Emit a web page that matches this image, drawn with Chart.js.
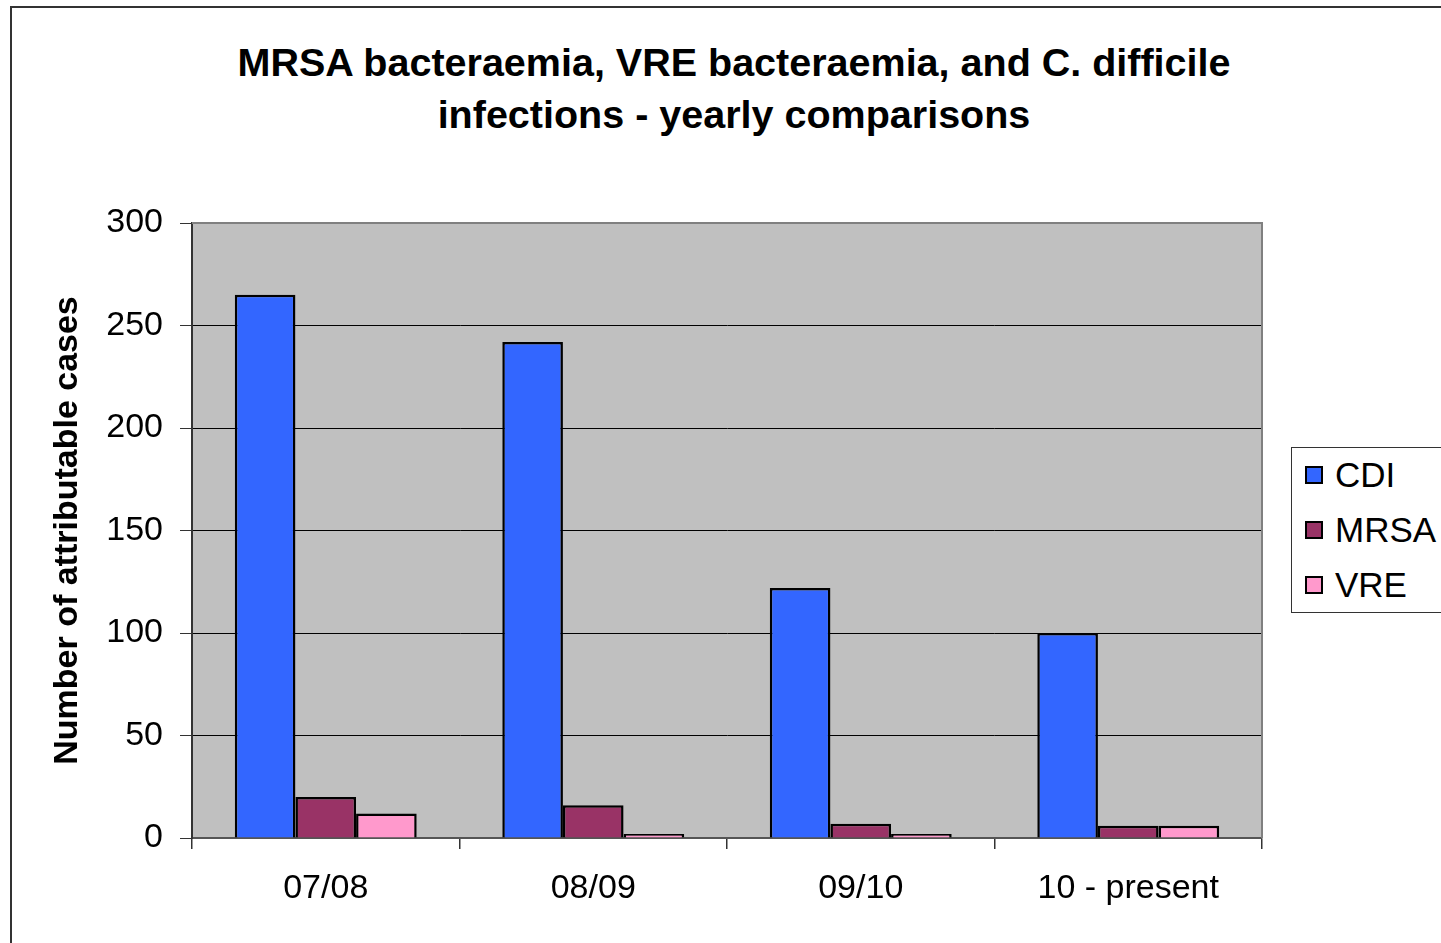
<!DOCTYPE html>
<html>
<head>
<meta charset="utf-8">
<script src="https://cdn.jsdelivr.net/npm/chart.js@4.4.0/dist/chart.umd.min.js"></script>
<style>
    html, body { margin: 0; padding: 0; background: #fff; overflow: hidden; }
    #wrap { position: relative; width: 1441px; height: 943px; font-family: 'Liberation Sans', Arial, sans-serif; }
    #frame { position: absolute; left: 10px; top: 6px; width: 1500px; height: 1000px; border-left: 2px solid #333; border-top: 2px solid #333; }
    #titulo { position: absolute; left: 0; width: 1468px; top: 36px; text-align: center; font-weight: bold; font-size: 39.5px; line-height: 52px; color: #000; }
    #legenda { position: absolute; left: 1291px; top: 447px; width: 170px; height: 164px; border: 1px solid #333; background: #fff; }
    .item { position: absolute; left: 13px; font-size: 35px; line-height: 40px; color: #000; }
    .item span.box { display: inline-block; width: 14px; height: 14px; border: 2px solid #000; margin-right: 12px; vertical-align: 3px; }
    canvas { position: absolute; left: 0; top: 0; }
</style>
</head>
<body>
<div id="wrap">
    <div id="frame"></div>
    <div id="titulo">MRSA bacteraemia, VRE bacteraemia, and C. difficile<br>infections - yearly comparisons</div>
    <canvas id="grafico" width="1441" height="943"></canvas>
    <div id="legenda"></div>
</div>
<script>
const categorias = ['07/08', '08/09', '09/10', '10 - present'];
const cdi = [265, 242, 122, 100];
const mrsa = [20, 16, 7, 6];
const vre = [12, 2, 2, 6];
const series = ['CDI', 'MRSA', 'VRE'];
const cores = ['#3366FF', '#993366', '#FF99CC'];
const ticksY = [0, 50, 100, 150, 200, 250, 300];

// legenda em html
const leg = document.getElementById('legenda');
series.forEach((nome, i) => {
    const d = document.createElement('div');
    d.className = 'item';
    d.style.top = (7 + i * 55) + 'px';
    d.innerHTML = '<span class="box" style="background:' + cores[i] + '"></span>' + nome;
    leg.appendChild(d);
});

const fundoPlot = {
    id: 'fundoPlot',
    beforeDraw(chart) {
        const { ctx, chartArea: a } = chart;
        ctx.save();
        ctx.fillStyle = '#C0C0C0';
        ctx.fillRect(a.left, a.top, a.right - a.left, a.bottom - a.top);
        ctx.restore();
    },
    afterDatasetsDraw(chart) {
        const { ctx, chartArea: a } = chart;
        ctx.save();
        ctx.strokeStyle = '#808080';
        ctx.lineWidth = 2;
        ctx.beginPath();
        ctx.moveTo(a.left, a.top);
        ctx.lineTo(a.right, a.top);
        ctx.lineTo(a.right, a.bottom);
        ctx.stroke();
        ctx.restore();
    }
};

const valores = [cdi, mrsa, vre];

new Chart(document.getElementById('grafico').getContext('2d'), {
    type: 'bar',
    data: {
        labels: categorias,
        datasets: series.map((nome, i) => ({
            label: nome,
            data: valores[i],
            backgroundColor: cores[i],
            borderColor: '#000',
            borderWidth: 2.5,
            borderSkipped: 'bottom',
            categoryPercentage: 0.68,
            barPercentage: 1.0
        }))
    },
    options: {
        responsive: false,
        animation: false,
        layout: { padding: { left: 10, top: 223, right: 179, bottom: 0 } },
        plugins: {
            legend: { display: false },
            title: { display: false },
            tooltip: { enabled: false }
        },
        scales: {
            x: {
                afterFit(scale) { scale.height = 105; },
                grid: { display: true, drawOnChartArea: false, offset: true, tickLength: 11, color: '#333', lineWidth: 1.5 },
                border: { color: '#555', width: 2 },
                ticks: { color: '#000', font: { family: 'Liberation Sans', size: 34 }, padding: 19, maxRotation: 0 }
            },
            y: {
                min: 0,
                max: 300,
                afterFit(scale) { scale.width = 182; },
                afterBuildTicks(scale) { scale.ticks = ticksY.map(v => ({ value: v })); },
                grid: {
                    color: '#000',
                    lineWidth: 1,
                    tickLength: 12,
                    tickColor: '#333'
                },
                border: { color: '#333', width: 2 },
                ticks: { color: '#000', font: { family: 'Liberation Sans', size: 34 }, padding: 17 },
                title: {
                    display: true,
                    text: 'Number of attributable cases',
                    color: '#000',
                    font: { family: 'Liberation Sans', size: 34, weight: 'bold' },
                    padding: { top: 37, bottom: 0 }
                }
            }
        }
    },
    plugins: [fundoPlot]
});
</script>
</body>
</html>
